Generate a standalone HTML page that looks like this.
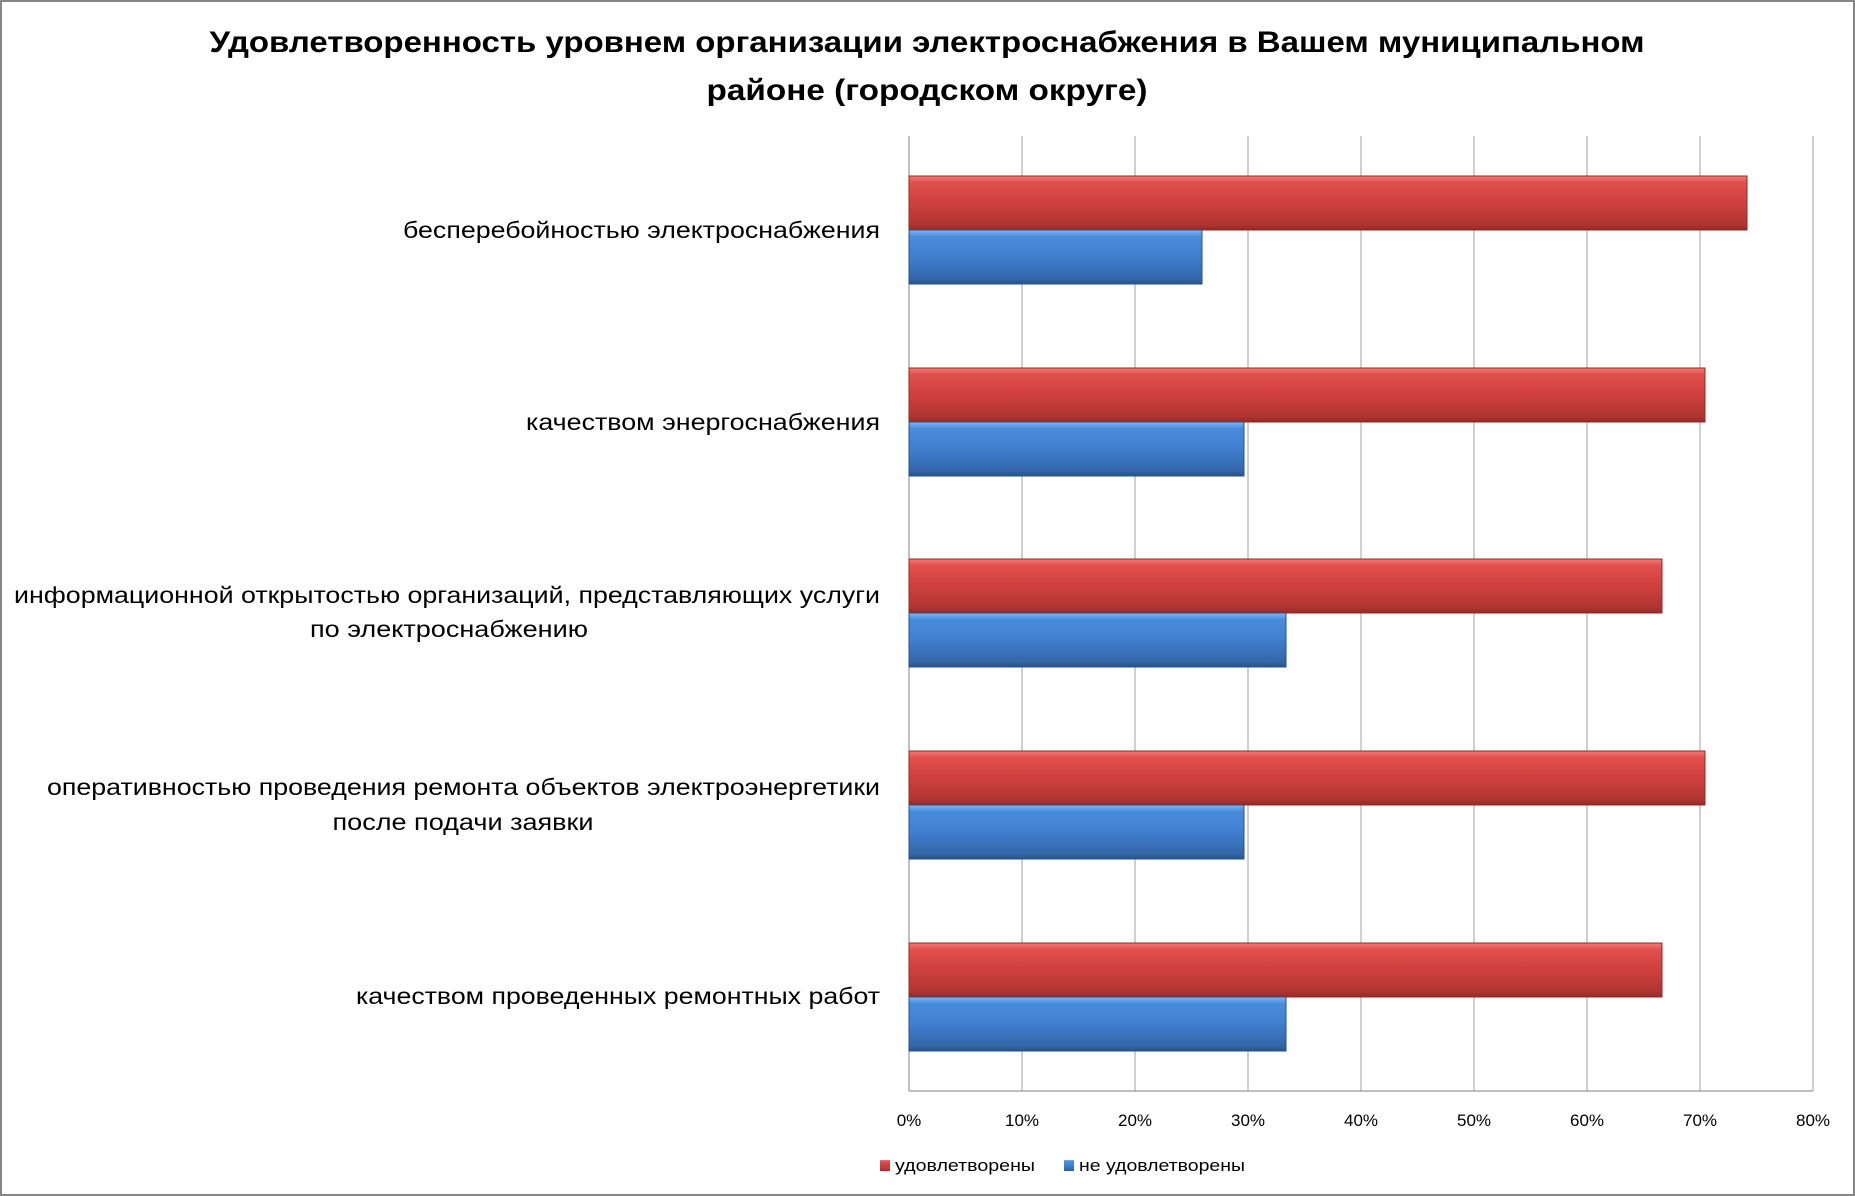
<!DOCTYPE html>
<html><head><meta charset="utf-8"><style>
html,body{margin:0;padding:0;background:#fff;}
svg{display:block;}
text{font-family:"Liberation Sans","DejaVu Sans",sans-serif;fill:#000;}
</style></head><body>
<svg width="1855" height="1196" viewBox="0 0 1855 1196" xmlns="http://www.w3.org/2000/svg">
<defs>
<linearGradient id="r" x1="0" y1="0" x2="0" y2="1">
<stop offset="0" stop-color="#f47a76"/><stop offset="0.12" stop-color="#e0504c"/><stop offset="0.5" stop-color="#cf403d"/><stop offset="0.9" stop-color="#b03532"/><stop offset="1" stop-color="#8e2a28"/>
</linearGradient>
<linearGradient id="b" x1="0" y1="0" x2="0" y2="1">
<stop offset="0" stop-color="#7ab8f5"/><stop offset="0.12" stop-color="#4a8cdc"/><stop offset="0.5" stop-color="#3f7fcf"/><stop offset="0.9" stop-color="#3466a8"/><stop offset="1" stop-color="#28528a"/>
</linearGradient>
</defs>
<rect x="1" y="1" width="1853" height="1194" fill="#fff" stroke="#868686" stroke-width="2"/>
<text x="927" y="52" font-size="30" font-weight="bold" text-anchor="middle" textLength="1435" lengthAdjust="spacingAndGlyphs">Удовлетворенность уровнем организации электроснабжения в Вашем муниципальном</text>
<text x="927" y="100" font-size="30" font-weight="bold" text-anchor="middle" textLength="441" lengthAdjust="spacingAndGlyphs">районе (городском округе)</text>
<g stroke="#a0a0a0" stroke-width="1">
<line x1="1022" y1="136" x2="1022" y2="1091"/><line x1="1135" y1="136" x2="1135" y2="1091"/>
<line x1="1248" y1="136" x2="1248" y2="1091"/><line x1="1361" y1="136" x2="1361" y2="1091"/>
<line x1="1474" y1="136" x2="1474" y2="1091"/><line x1="1587" y1="136" x2="1587" y2="1091"/>
<line x1="1700" y1="136" x2="1700" y2="1091"/><line x1="1813" y1="136" x2="1813" y2="1091"/>
</g>
<line x1="909" y1="136" x2="909" y2="1091" stroke="#808080"/>
<line x1="909" y1="1091" x2="1813" y2="1091" stroke="#808080"/>
<g stroke-width="1">
<rect x="909" y="176" width="838" height="54" fill="url(#r)" stroke="#8e2a28"/>
<rect x="909" y="230" width="293" height="54" fill="url(#b)" stroke="#28528a"/>
<rect x="909" y="368" width="796" height="54" fill="url(#r)" stroke="#8e2a28"/>
<rect x="909" y="422" width="335" height="54" fill="url(#b)" stroke="#28528a"/>
<rect x="909" y="559" width="753" height="54" fill="url(#r)" stroke="#8e2a28"/>
<rect x="909" y="613" width="377" height="54" fill="url(#b)" stroke="#28528a"/>
<rect x="909" y="751" width="796" height="54" fill="url(#r)" stroke="#8e2a28"/>
<rect x="909" y="805" width="335" height="54" fill="url(#b)" stroke="#28528a"/>
<rect x="909" y="943" width="753" height="54" fill="url(#r)" stroke="#8e2a28"/>
<rect x="909" y="997" width="377" height="54" fill="url(#b)" stroke="#28528a"/>
</g>
<g font-size="23">
<text x="880" y="238" text-anchor="end" textLength="477" lengthAdjust="spacingAndGlyphs">бесперебойностью  электроснабжения</text>
<text x="880" y="430" text-anchor="end" textLength="354" lengthAdjust="spacingAndGlyphs">качеством энергоснабжения</text>
<text x="880" y="603" text-anchor="end" textLength="866" lengthAdjust="spacingAndGlyphs">информационной открытостью организаций, представляющих услуги</text>
<text x="449" y="637" text-anchor="middle" textLength="278" lengthAdjust="spacingAndGlyphs">по электроснабжению</text>
<text x="880" y="795" text-anchor="end" textLength="833" lengthAdjust="spacingAndGlyphs">оперативностью проведения ремонта объектов электроэнергетики</text>
<text x="463" y="830" text-anchor="middle" textLength="261" lengthAdjust="spacingAndGlyphs">после подачи заявки</text>
<text x="880" y="1004" text-anchor="end" textLength="524" lengthAdjust="spacingAndGlyphs">качеством проведенных ремонтных работ</text>
</g>
<g font-size="17" text-anchor="middle">
<text x="909" y="1126">0%</text><text x="1022" y="1126">10%</text><text x="1135" y="1126">20%</text>
<text x="1248" y="1126">30%</text><text x="1361" y="1126">40%</text><text x="1474" y="1126">50%</text>
<text x="1587" y="1126">60%</text><text x="1700" y="1126">70%</text><text x="1813" y="1126">80%</text>
</g>
<rect x="880" y="1160" width="10" height="11" fill="url(#r)"/>
<text x="895" y="1171" font-size="17" textLength="140" lengthAdjust="spacingAndGlyphs">удовлетворены</text>
<rect x="1064" y="1160" width="10" height="11" fill="url(#b)"/>
<text x="1079" y="1171" font-size="17" textLength="166" lengthAdjust="spacingAndGlyphs">не удовлетворены</text>
</svg>
</body></html>
